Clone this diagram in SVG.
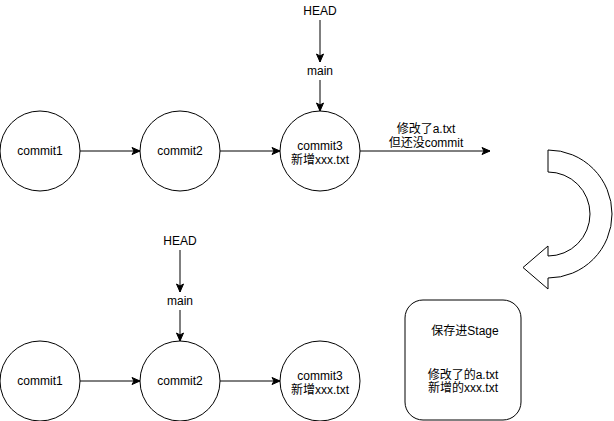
<svg xmlns="http://www.w3.org/2000/svg" width="614" height="421" viewBox="0 0 614 421">
<defs>
<style>
.n{fill:#fff;stroke:#000;stroke-width:1}
.t{font-family:"Liberation Sans",Arial,"Noto Sans CJK SC",sans-serif;font-size:12px;fill:#000;text-anchor:middle}
.e{stroke:#000;stroke-width:1;fill:none;marker-end:url(#a)}
</style>
<marker id="a" viewBox="0 0 10 10" refX="9" refY="5" markerWidth="10" markerHeight="10" markerUnits="userSpaceOnUse" orient="auto">
<path d="M1,1.5 L9,5 L1,8.5 L3,5 Z" fill="#000" stroke="#000" stroke-width="1"/>
</marker>
</defs>
<rect width="614" height="421" fill="#fff"/>
<g id="connectors">
<path class="e" d="M80,151 H140"/>
<path class="e" d="M220,151 H280"/>
<path class="e" d="M360,151 H490"/>
<path class="e" d="M320,20 V62"/>
<path class="e" d="M320,80 V111"/>
<path class="e" d="M180,250 V292"/>
<path class="e" d="M180,310 V341"/>
<path class="e" d="M220,381 H280"/>
<path class="e" d="M80,381 H140"/>
</g>
<g id="edge-label"><text class="t" x="426" y="133">修改了a.txt</text><text class="t" x="426" y="147">但还没commit</text></g>
<g id="c1"><circle class="n" cx="40" cy="151" r="40"/><text class="t" x="40" y="155">commit1</text></g>
<g id="c2"><circle class="n" cx="180" cy="151" r="40"/><text class="t" x="180" y="155">commit2</text></g>
<g id="c3"><circle class="n" cx="320" cy="151" r="40"/><text class="t" x="320" y="150">commit3</text><text class="t" x="320" y="164">新增xxx.txt</text></g>
<g id="head1"><text class="t" x="320" y="15">HEAD</text></g>
<g id="main1"><text class="t" x="320" y="75">main</text></g>
<g id="b1"><circle class="n" cx="40" cy="381" r="40"/><text class="t" x="40" y="385">commit1</text></g>
<g id="b2"><circle class="n" cx="180" cy="381" r="40"/><text class="t" x="180" y="385">commit2</text></g>
<g id="b3"><circle class="n" cx="320" cy="381" r="40"/><text class="t" x="320" y="380">commit3</text><text class="t" x="320" y="394">新增xxx.txt</text></g>
<g id="head2"><text class="t" x="180" y="245">HEAD</text></g>
<g id="main2"><text class="t" x="180" y="305">main</text></g>
<g id="curve"><path class="n" d="M548,150 A64,64 0 0 1 548,278 L548,289 L523,267.5 L548,246 L548,256 A42,42 0 0 0 548,172 Z"/></g>
<g id="stage"><rect class="n" x="405" y="300" width="116" height="120" rx="18" ry="18"/>
<text class="t" x="465" y="335">保存进Stage</text>
<text class="t" x="463" y="379">修改了的a.txt</text>
<text class="t" x="463" y="392">新增的xxx.txt</text></g>
</svg>
